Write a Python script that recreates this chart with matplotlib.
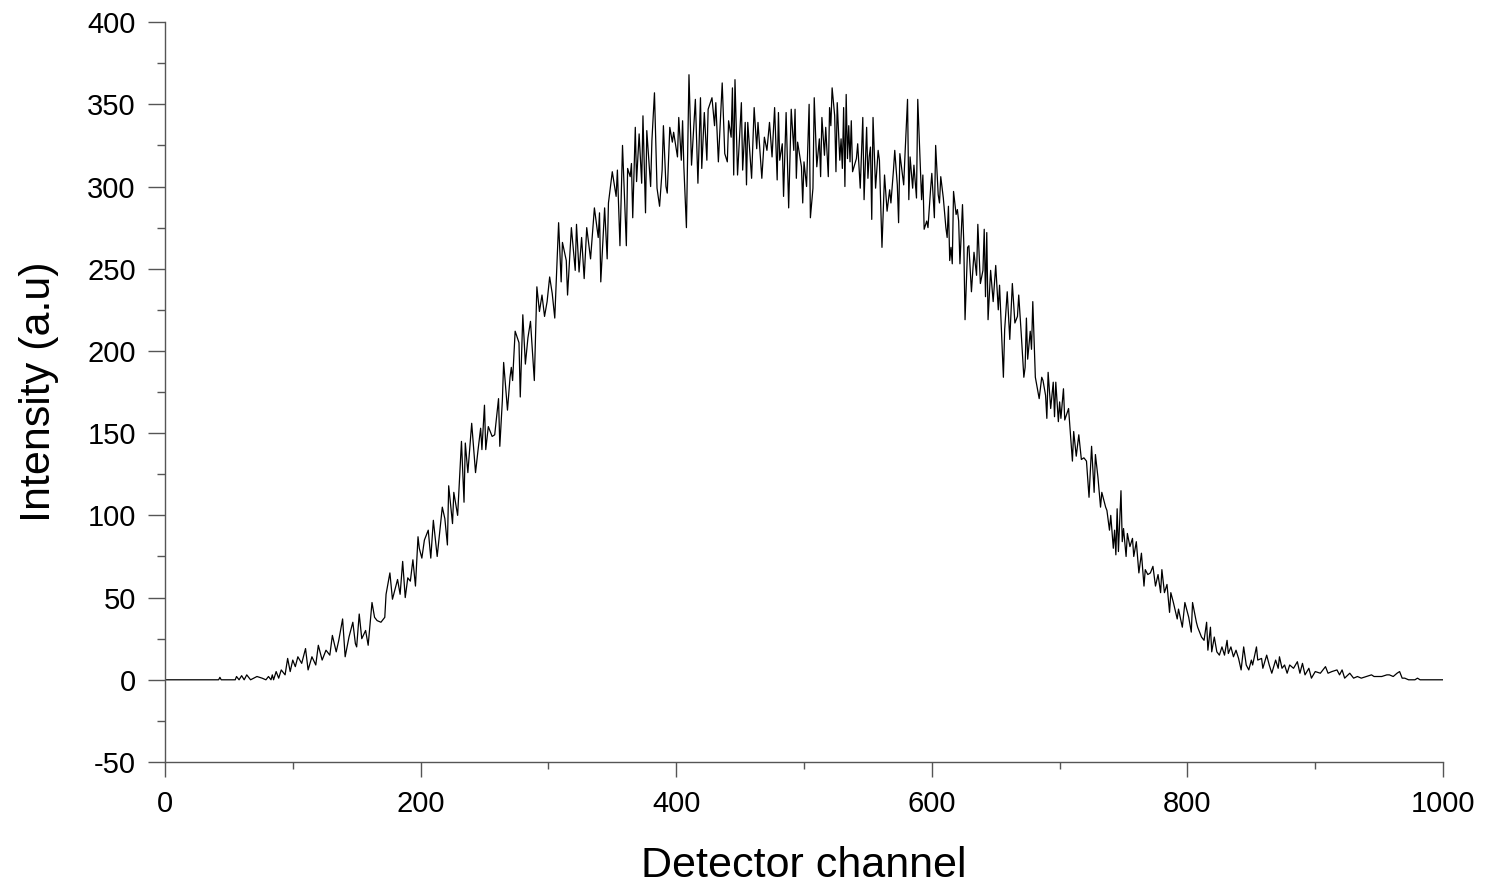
import numpy as np
import matplotlib
matplotlib.use("Agg")
import matplotlib.pyplot as plt
from matplotlib.ticker import MultipleLocator, FuncFormatter

##################
###    Data    ###
##################

# values (channel, intensity)
channels = [
    0, 40, 42, 43, 44, 55, 56, 58, 60, 62, 64, 67, 72, 76, 79, 81, 83, 84, 85, 87,
    89, 91, 94, 96, 98, 100, 102, 104, 107, 110, 112, 115, 118, 120, 123, 126, 129, 131, 134, 136,
    139, 141, 144, 147, 149, 150, 152, 154, 157, 159, 162, 164, 166, 169, 172, 173, 176, 178, 180, 182,
    184, 186, 188, 190, 192, 194, 196, 198, 199, 201, 203, 206, 208, 210, 213, 215, 217, 219, 221, 222,
    225, 226, 229, 232, 234, 235, 237, 240, 243, 245, 247, 248, 250, 251, 253, 256, 258, 261, 262, 264,
    265, 268, 270, 271, 272, 274, 277, 278, 280, 282, 284, 286, 289, 291, 293, 295, 297, 299, 301, 303,
    305, 308, 310, 311, 314, 315, 318, 321, 322, 324, 326, 328, 330, 333, 336, 339, 340, 341, 344, 346,
    347, 350, 353, 354, 356, 358, 361, 362, 364, 365, 366, 368, 369, 371, 373, 374, 376, 377, 380, 381,
    383, 385, 387, 389, 390, 392, 393, 395, 397, 398, 401, 402, 404, 405, 406, 408, 410, 412, 415, 417,
    419, 420, 422, 424, 425, 428, 430, 431, 433, 436, 438, 440, 441, 443, 444, 445, 446, 448, 451, 452,
    454, 455, 456, 459, 461, 463, 464, 467, 469, 471, 473, 475, 477, 479, 480, 481, 483, 484, 486, 488,
    490, 492, 493, 494, 495, 498, 499, 500, 502, 504, 505, 507, 508, 510, 512, 513, 514, 516, 517, 519,
    520, 521, 522, 524, 525, 526, 528, 529, 530, 531, 532, 533, 534, 535, 536, 537, 538, 541, 542, 544,
    546, 547, 549, 550, 551, 552, 553, 554, 556, 558, 559, 561, 563, 565, 567, 568, 570, 571, 573, 574,
    575, 578, 579, 581, 582, 583, 585, 586, 588, 589, 592, 593, 594, 596, 597, 599, 600, 602, 603, 605,
    606, 607, 609, 611, 612, 613, 614, 615, 616, 617, 619, 620, 621, 622, 624, 625, 626, 628, 629, 631,
    633, 635, 636, 638, 640, 641, 642, 643, 644, 646, 648, 650, 652, 653, 656, 657, 659, 661, 663, 665,
    667, 668, 670, 672, 673, 674, 675, 677, 678, 679, 681, 684, 686, 687, 689, 690, 691, 693, 695, 696,
    697, 699, 700, 701, 703, 704, 707, 710, 711, 713, 715, 717, 719, 721, 723, 725, 727, 728, 730, 732,
    733, 736, 737, 739, 740, 742, 743, 744, 745, 746, 748, 749, 750, 752, 753, 755, 757, 758, 760, 762,
    764, 766, 767, 769, 771, 773, 775, 777, 779, 780, 782, 784, 786, 787, 789, 792, 793, 796, 798, 800,
    801, 803, 804, 807, 808, 811, 813, 815, 816, 818, 819, 821, 823, 825, 827, 829, 831, 832, 834, 836,
    838, 840, 842, 844, 846, 848, 850, 851, 854, 855, 858, 859, 862, 864, 866, 869, 871, 872, 874, 876,
    878, 880, 883, 886, 888, 890, 892, 895, 897, 900, 904, 908, 910, 913, 917, 919, 921, 923, 927, 930,
    933, 936, 940, 944, 946, 952, 956, 958, 961, 964, 966, 968, 970, 973, 978, 980, 982, 1000,
]
intensity = [
    0, 0, 0, 1.5, 0, 0, 2, 0, 2.5, 0, 3, 0, 2, 1, 0, 2, 0, 3, 0, 5,
    1, 6, 3, 13, 5, 12, 8, 14, 10, 19, 6, 14, 9, 21, 12, 18, 15, 27, 17, 24,
    37, 14, 26, 35, 22, 20, 40, 25, 30, 21, 47, 38, 36, 35, 38, 52, 65, 49, 55, 61,
    52, 72, 50, 62, 60, 73, 57, 87, 80, 74, 85, 91, 74, 97, 75, 90, 105, 98, 82, 118,
    95, 114, 100, 145, 108, 144, 126, 156, 126, 140, 153, 140, 167, 140, 154, 148, 149, 171, 142, 170,
    193, 164, 184, 190, 182, 212, 205, 172, 222, 192, 208, 218, 182, 239, 224, 234, 221, 230, 245, 235,
    220, 278, 242, 266, 255, 234, 275, 249, 277, 248, 269, 244, 275, 256, 287, 269, 284, 242, 287, 256,
    290, 309, 294, 310, 264, 325, 264, 311, 306, 314, 281, 336, 303, 332, 302, 343, 284, 334, 300, 328,
    357, 299, 288, 310, 337, 300, 296, 336, 327, 333, 318, 342, 316, 340, 312, 275, 368, 313, 353, 302,
    354, 311, 345, 316, 347, 354, 337, 351, 315, 363, 320, 315, 340, 330, 360, 307, 365, 307, 351, 310,
    339, 301, 339, 305, 348, 323, 339, 305, 330, 322, 339, 318, 348, 304, 345, 316, 326, 294, 345, 287,
    347, 322, 347, 305, 327, 312, 290, 315, 300, 350, 281, 299, 354, 312, 329, 306, 342, 319, 336, 306,
    348, 337, 360, 343, 309, 351, 316, 329, 311, 348, 300, 356, 317, 337, 315, 340, 309, 317, 326, 299,
    342, 292, 336, 305, 318, 324, 280, 342, 299, 322, 316, 263, 307, 285, 298, 290, 310, 322, 301, 278,
    320, 301, 319, 353, 292, 318, 299, 313, 293, 353, 292, 307, 274, 279, 275, 298, 308, 281, 325, 295,
    290, 306, 293, 275, 269, 288, 255, 263, 253, 297, 283, 286, 279, 253, 289, 266, 219, 263, 264, 236,
    260, 246, 277, 241, 249, 274, 233, 272, 219, 249, 230, 252, 225, 240, 184, 213, 236, 207, 241, 217,
    221, 234, 210, 184, 190, 220, 195, 212, 201, 230, 184, 171, 184, 182, 173, 159, 187, 165, 181, 160,
    181, 157, 169, 159, 177, 158, 165, 133, 151, 136, 149, 134, 135, 133, 111, 142, 114, 137, 123, 105,
    114, 105, 103, 91, 100, 80, 91, 76, 104, 78, 115, 84, 92, 75, 89, 81, 86, 75, 84, 65,
    77, 57, 67, 64, 65, 69, 57, 64, 53, 67, 53, 58, 41, 53, 47, 37, 43, 32, 47, 41,
    38, 29, 47, 35, 32, 26, 24, 35, 18, 32, 17, 26, 17, 15, 20, 15, 24, 16, 20, 14,
    18, 13, 6, 20, 9, 6, 12, 9, 20, 12, 13, 7, 15, 9, 4, 12, 7, 14, 7, 9,
    4, 9, 7, 11, 4, 10, 3, 7, 1, 5, 4, 8, 4, 5, 6, 3, 6, 1, 4, 1,
    2, 1, 2, 3, 2, 2, 3, 3, 2, 4, 5, 1, 1, 0, 0, 1, 0, 0,
]

x_ticks = [0, 200, 400, 600, 800, 1000]
y_ticks = [-50, 0, 50, 100, 150, 200, 250, 300, 350, 400]

##################
###   Plot     ###
##################

plt.rcParams['font.family'] = ['Liberation Sans', 'DejaVu Sans']
plt.rcParams['axes.unicode_minus'] = False
axis_color = "#555555"

fig = plt.figure(figsize=(14.9, 8.84), dpi=100)
ax = fig.add_axes([0.1107, 0.138, 0.8578, 0.837])

ax.plot(channels, intensity, color="black", linewidth=0.9)

ax.set_xlim(0, 1000)
ax.set_ylim(-50, 400)
ax.set_xticks(x_ticks)
ax.set_yticks(y_ticks)
ax.xaxis.set_minor_locator(MultipleLocator(100))
ax.yaxis.set_minor_locator(MultipleLocator(25))
ax.yaxis.set_major_formatter(FuncFormatter(lambda v, pos: "%d" % v))

for side in ["top", "right"]:
    ax.spines[side].set_visible(False)
for side in ["left", "bottom"]:
    ax.spines[side].set_color(axis_color)
    ax.spines[side].set_linewidth(1.0)

ax.tick_params(axis="x", which="major", direction="out", length=11, width=1.0,
               color=axis_color, labelsize=21, pad=9)
ax.tick_params(axis="x", which="minor", direction="out", length=5, width=1.0, color=axis_color)
ax.tick_params(axis="y", which="major", direction="out", length=12, width=1.0,
               color=axis_color, labelsize=21, pad=9)
ax.tick_params(axis="y", which="minor", direction="out", length=6, width=1.0, color=axis_color)

ax.set_xlabel("Detector channel", fontsize=31, labelpad=20)
ax.set_ylabel("Intensity (a.u)", fontsize=31, labelpad=20)

fig.savefig("out.png", dpi=100)
